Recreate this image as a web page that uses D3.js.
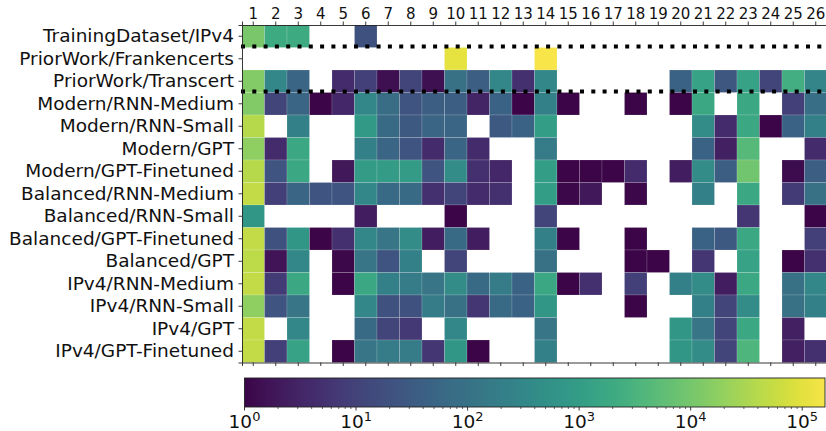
<!DOCTYPE html>
<html>
<head>
<meta charset="utf-8">
<script src="https://cdn.jsdelivr.net/npm/d3@7"></script>
<style>
  body { margin: 0; background: #fff; }
  svg { font-family: "DejaVu Sans", sans-serif; }
</style>
</head>
<body>
<script>
var rows = ["TrainingDataset/IPv4", "PriorWork/Frankencerts", "PriorWork/Transcert",
    "Modern/RNN-Medium", "Modern/RNN-Small", "Modern/GPT", "Modern/GPT-Finetuned",
    "Balanced/RNN-Medium", "Balanced/RNN-Small", "Balanced/GPT-Finetuned", "Balanced/GPT",
    "IPv4/RNN-Medium", "IPv4/RNN-Small", "IPv4/GPT", "IPv4/GPT-Finetuned"];

var cols = d3.range(1, 27);

var n = null;
var values = [
    [11000, 2000, 2000, n, n, 20, n, n, n, n, n, n, n, n, n, n, n, n, n, n, n, n, n, n, n, n],
    [n, n, n, n, n, n, n, n, n, 110000, n, n, n, 160000, n, n, n, n, n, n, n, n, n, n, n, n],
    [14000, 320, 52, n, 4.2, 8.7, 1.4, 11, 1.4, 95, 36, 320, 4.8, 320, n, n, n, n, n, 46, 1340, 26, 1340, 11, 2450, 280],
    [13000, 11, 52, 1, 3.3, 320, 75, 23, 36, 36, 3, 46, 1, 220, 1, n, n, 1, n, 1, 1700, n, 1700, n, 8.7, 85],
    [40000, n, 220, n, n, 830, 67, 29, 52, 52, n, 29, 46, 1050, n, n, n, n, n, n, 400, 4.2, 1700, 1, 46, 220],
    [17000, 4.2, 1700, n, n, 220, 52, 23, 4.2, 52, 4.2, n, n, 175, n, n, n, n, n, n, 46, 2.6, 4460, n, n, 4.2],
    [40000, 23, 1700, n, 2, 930, 930, 930, 23, 400, 4.8, 3.3, n, 1050, 1, 1, 1, 4.2, n, 2.3, 400, 36, 9000, n, 1.3, 36],
    [50000, 8.7, 52, 23, 23, 320, 67, 67, 4.8, 11, 4.2, 4.8, n, 1050, 1.1, 2, n, 1.1, n, n, 220, n, 1700, n, 7.7, 95],
    [730, n, n, n, n, 2.3, n, n, n, 1, n, n, n, 11, n, n, n, n, n, n, n, n, 6, n, n, 1],
    [50000, 20, 730, 1, 4.8, 320, 120, 400, 2.3, 67, 2.3, n, n, 220, 1, n, n, 1, n, n, 46, 29, 1700, n, n, 8.7],
    [46000, 1.6, 320, n, 1.1, 120, 23, 220, n, 11, n, n, n, 95, n, n, n, 1, 1, n, 6, n, 1340, n, 1, 4.8],
    [50000, 7.7, 1700, n, 1, 1700, 220, 175, 120, 400, 67, 175, 46, 1700, 1, 4.8, n, 8.7, n, 220, 400, 2.3, 1700, n, 95, 320],
    [17000, 23, 120, n, n, 320, 20, 20, 175, 95, 6, 67, 46, 730, n, n, n, 1, n, n, 220, 11, 400, n, 95, 220],
    [50000, n, 320, n, n, 67, 11, 6.8, n, 320, n, n, n, 120, n, n, n, n, n, 730, 120, 11, 1700, n, 2.6, n],
    [50000, 8.7, 1340, n, 1, 120, 175, 175, 6, 730, 1, n, n, 220, n, n, n, n, n, 730, 400, 11, 3500, n, 2.6, 4.8]
];

// rows after which a dotted separator is drawn
var separators = [1, 3];
var cbTicks = [1, 10, 100, 1000, 10000, 100000];

var width = 826, height = 431;
var cell = 22.5;
var plotLeft = 242, plotTop = 25;

var svg = d3.select("body").append("svg")
    .attr("width", width)
    .attr("height", height);

// the picture's colours look a bit washed out compared to plain viridis
var defs = svg.append("defs");
defs.append("filter")
    .attr("id", "soft")
    .attr("color-interpolation-filters", "sRGB")
    .append("feColorMatrix")
        .attr("type", "saturate")
        .attr("values", 0.8);

var vmax = d3.max(values, function(r) { return d3.max(r); });
var color = d3.scaleSequentialLog(d3.interpolateViridis).domain([1, vmax]);

var x = d3.scaleBand().domain(cols).range([plotLeft, plotLeft + cols.length * cell]);
var y = d3.scaleBand().domain(rows).range([plotTop, plotTop + rows.length * cell]);

var cells = [];
values.forEach(function(r, i) {
    r.forEach(function(v, j) {
        if (v !== null) cells.push({row: rows[i], col: cols[j], v: v});
    });
});

svg.append("g")
    .attr("filter", "url(#soft)")
    .selectAll("rect")
    .data(cells)
    .enter().append("rect")
        .attr("x", function(d) { return x(d.col); })
        .attr("y", function(d) { return y(d.row); })
        .attr("width", x.bandwidth())
        .attr("height", y.bandwidth())
        .attr("fill", function(d) { return color(d.v); })
        .attr("stroke", "#ffffff")
        .attr("stroke-opacity", 0.25)
        .attr("stroke-width", 0.6);

// dotted separators
svg.append("g")
    .selectAll("line")
    .data(separators)
    .enter().append("line")
        .attr("x1", plotLeft - 1)
        .attr("x2", width)
        .attr("y1", function(d) { return y(rows[d]) - 1; })
        .attr("y2", function(d) { return y(rows[d]) - 1; })
        .attr("stroke", "#000")
        .attr("stroke-width", 4)
        .attr("stroke-dasharray", "4,7.3");

// axes
var xTop = svg.append("g")
    .attr("transform", "translate(0," + plotTop + ")")
    .call(d3.axisTop(x).tickSize(3.5).tickPadding(3))
    .attr("font-family", "DejaVu Sans");
xTop.selectAll("text").attr("font-size", 15).attr("fill", "#111");

svg.append("g")
    .attr("transform", "translate(0," + (plotTop + rows.length * cell) + ")")
    .call(d3.axisBottom(x).tickSize(3.5).tickFormat(""));

var yLeft = svg.append("g")
    .attr("transform", "translate(" + plotLeft + ",0)")
    .call(d3.axisLeft(y).tickSize(3.5).tickPadding(4.5))
    .attr("font-family", "DejaVu Sans");
yLeft.selectAll("text").attr("font-size", 18.5).attr("fill", "#111");

svg.selectAll(".domain").attr("stroke", "#222").attr("stroke-width", 0.9);
svg.selectAll(".tick line").attr("stroke", "#222").attr("stroke-width", 0.9);

// colorbar
var cbX0 = 244.5, cbX1 = 825, cbY = 378, cbH = 29;
var cb = d3.scaleLog().domain([1, vmax]).range([cbX0, cbX1]);

var grad = defs.append("linearGradient")
    .attr("id", "cbgrad")
    .attr("x1", "0%").attr("x2", "100%");
grad.selectAll("stop")
    .data(d3.range(0, 1.0001, 0.02))
    .enter().append("stop")
        .attr("offset", function(d) { return (d * 100) + "%"; })
        .attr("stop-color", function(d) { return d3.interpolateViridis(d); });

svg.append("rect")
    .attr("x", cbX0)
    .attr("y", cbY)
    .attr("width", cbX1 - cbX0)
    .attr("height", cbH)
    .attr("fill", "url(#cbgrad)")
    .attr("filter", "url(#soft)");

svg.append("rect")
    .attr("x", cbX0)
    .attr("y", cbY)
    .attr("width", cbX1 - cbX0)
    .attr("height", cbH)
    .attr("fill", "none")
    .attr("stroke", "#222")
    .attr("stroke-width", 0.9);

var minor = [];
cbTicks.forEach(function(t) {
    for (var k = 2; k < 10; k++) {
        if (t * k <= vmax) minor.push(t * k);
    }
});

svg.append("g")
    .selectAll("line")
    .data(minor)
    .enter().append("line")
        .attr("x1", function(d) { return cb(d); })
        .attr("x2", function(d) { return cb(d); })
        .attr("y1", cbY + cbH)
        .attr("y2", cbY + cbH + 2)
        .attr("stroke", "#222")
        .attr("stroke-width", 0.7);

var major = svg.append("g")
    .selectAll("g")
    .data(cbTicks)
    .enter().append("g")
        .attr("transform", function(d) { return "translate(" + cb(d) + "," + (cbY + cbH) + ")"; });

major.append("line")
    .attr("y2", 3.5)
    .attr("stroke", "#222")
    .attr("stroke-width", 0.9);

var lab = major.append("text")
    .attr("y", 21)
    .attr("text-anchor", "middle")
    .attr("font-size", 18.5)
    .attr("fill", "#111");
lab.append("tspan").text("10");
lab.append("tspan")
    .attr("dy", -7)
    .attr("font-size", 13)
    .text(function(d) { return Math.round(Math.log10(d)); });
</script>
</body>
</html>
